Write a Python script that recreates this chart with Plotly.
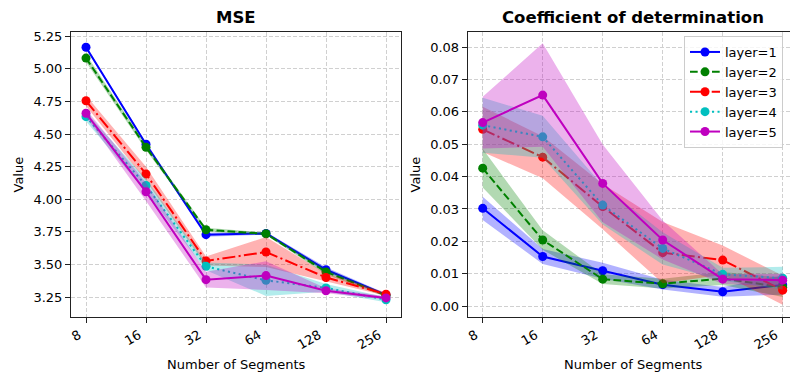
import plotly.graph_objects as go
import math

SEGMENTS = [8, 16, 32, 64, 128, 256]
TICK_TEXT = ["8", "16", "32", "64", "128", "256"]
LAYERS = ["layer=1", "layer=2", "layer=3", "layer=4", "layer=5"]

# MSE means / std
MSE_L1 = [5.165, 4.422, 3.728, 3.738, 3.459, 3.266]
MSE_L2 = [5.082, 4.398, 3.766, 3.735, 3.442, 3.262]
MSE_L3 = [4.755, 4.194, 3.526, 3.595, 3.400, 3.272]
MSE_L4 = [4.633, 4.105, 3.485, 3.378, 3.320, 3.229]
MSE_L5 = [4.659, 4.057, 3.383, 3.414, 3.298, 3.243]
MSE_L1_SD = [0.012, 0.012, 0.015, 0.010, 0.020, 0.010]
MSE_L2_SD = [0.030, 0.020, 0.015, 0.010, 0.020, 0.012]
MSE_L3_SD = [0.040, 0.055, 0.035, 0.115, 0.030, 0.012]
MSE_L4_SD = [0.035, 0.050, 0.030, 0.120, 0.030, 0.020]
MSE_L5_SD = [0.030, 0.070, 0.060, 0.110, 0.020, 0.012]

# Coefficient of determination means / std
R2_L1 = [0.0302, 0.0153, 0.0109, 0.0066, 0.0044, 0.0065]
R2_L2 = [0.0426, 0.0204, 0.0083, 0.0069, 0.0085, 0.0058]
R2_L3 = [0.0546, 0.0460, 0.0307, 0.0165, 0.0142, 0.0049]
R2_L4 = [0.0559, 0.0523, 0.0312, 0.0178, 0.0098, 0.0086]
R2_L5 = [0.0567, 0.0652, 0.0379, 0.0204, 0.0083, 0.0080]
R2_L1_SD = [0.0036, 0.0023, 0.0025, 0.0015, 0.0015, 0.0030]
R2_L2_SD = [0.0060, 0.0030, 0.0015, 0.0015, 0.0020, 0.0030]
R2_L3_SD = [0.0070, 0.0065, 0.0070, 0.0095, 0.0045, 0.0045]
R2_L4_SD = [0.0085, 0.0065, 0.0060, 0.0050, 0.0020, 0.0035]
R2_L5_SD = [0.0080, 0.0160, 0.0120, 0.0060, 0.0015, 0.0020]

COLORS = ["#0000ff", "#008000", "#ff0000", "#00bfbf", "#bf00bf"]
FILLS = ["rgba(0,0,255,0.3)", "rgba(0,128,0,0.3)", "rgba(255,0,0,0.3)",
         "rgba(0,191,191,0.3)", "rgba(191,0,191,0.3)"]
DASHES = ["solid", "7.7px,3.3px", "13px,3.3px,2.1px,3.3px", "2.1px,3.4px", "solid"]

MSE_MEANS = [MSE_L1, MSE_L2, MSE_L3, MSE_L4, MSE_L5]
MSE_SDS = [MSE_L1_SD, MSE_L2_SD, MSE_L3_SD, MSE_L4_SD, MSE_L5_SD]
R2_MEANS = [R2_L1, R2_L2, R2_L3, R2_L4, R2_L5]
R2_SDS = [R2_L1_SD, R2_L2_SD, R2_L3_SD, R2_L4_SD, R2_L5_SD]

W, H = 790, 374
FONT = "DejaVu Sans"

fig = go.Figure()


def add_panel(means, sds, xa, ya, show_legend):
    for i in range(5):
        m, s = means[i], sds[i]
        fig.add_trace(go.Scatter(
            x=SEGMENTS, y=m, mode="lines+markers", name=LAYERS[i],
            line=dict(color=COLORS[i], width=2, dash=DASHES[i]),
            marker=dict(color=COLORS[i], size=9, symbol="circle"),
            xaxis=xa, yaxis=ya, showlegend=show_legend, hoverinfo="skip"))
        upper = [a + b for a, b in zip(m, s)]
        lower = [a - b for a, b in zip(m, s)]
        fig.add_trace(go.Scatter(
            x=SEGMENTS + SEGMENTS[::-1], y=upper + lower[::-1],
            fill="toself", fillcolor=FILLS[i], line=dict(width=0),
            mode="lines", xaxis=xa, yaxis=ya, showlegend=False,
            hoverinfo="skip"))


add_panel(MSE_MEANS, MSE_SDS, "x", "y", False)
add_panel(R2_MEANS, R2_SDS, "x2", "y2", True)

L2 = math.log10(2)
lo = math.log10(8) - 0.25 * L2
ydom = [1 - 316.7 / H, 1 - 32.3 / H]

common_x = dict(
    type="log", tickvals=SEGMENTS, ticktext=TICK_TEXT, tickangle=-30,
    ticklabelshift=-7,
    showline=True, mirror=True, linecolor="#222", linewidth=1,
    ticks="outside", ticklen=5, tickwidth=1, tickcolor="#222",
    showgrid=True, gridcolor="#d0d0d0", griddash="4px,2px", gridwidth=1,
    zeroline=False, tickfont=dict(family=FONT, size=13, color="#000"),
    automargin=False)
common_y = dict(
    showline=True, mirror=True, linecolor="#222", linewidth=1,
    ticks="outside", ticklen=5, tickwidth=1, tickcolor="#222",
    showgrid=True, gridcolor="#d0d0d0", griddash="4px,2px", gridwidth=1,
    zeroline=False, tickfont=dict(family=FONT, size=13, color="#000"),
    automargin=False, domain=ydom)

fig.update_layout(
    width=W, height=H,
    margin=dict(l=0, r=0, t=0, b=0),
    paper_bgcolor="white", plot_bgcolor="white",
    font=dict(family=FONT, size=13, color="#000"),
    xaxis=dict(common_x, domain=[71 / W, 401 / W],
               range=[lo, math.log10(256) + 0.25 * L2], anchor="y"),
    yaxis=dict(common_y, range=[3.099, 5.28],
               tickvals=[3.25, 3.5, 3.75, 4.0, 4.25, 4.5, 4.75, 5.0, 5.25],
               ticktext=["3.25", "3.50", "3.75", "4.00", "4.25", "4.50", "4.75", "5.00", "5.25"],
               anchor="x"),
    xaxis2=dict(common_x, domain=[467.7 / W, 1.0],
                range=[lo, lo + (322.3 / 60) * L2], anchor="y2"),
    yaxis2=dict(common_y, range=[-0.0033, 0.0846],
                tickvals=[0, 0.01, 0.02, 0.03, 0.04, 0.05, 0.06, 0.07, 0.08],
                ticktext=["0.00", "0.01", "0.02", "0.03", "0.04", "0.05", "0.06", "0.07", "0.08"],
                anchor="x2"),
    legend=dict(x=684 / W, y=1 - 36 / H, xanchor="left", yanchor="top",
                bgcolor="rgba(255,255,255,0.8)", bordercolor="#cccccc",
                borderwidth=1, font=dict(family=FONT, size=13, color="#000"),
                tracegroupgap=0),
    showlegend=True,
)

ann = [
    dict(text="<b>MSE</b>", x=236 / W, y=1 - 18 / H, font=dict(size=16.5)),
    dict(text="<b>Coefficient of determination</b>", x=633 / W, y=1 - 18 / H,
         font=dict(size=16.5)),
    dict(text="Number of Segments", x=236 / W, y=1 - 364 / H),
    dict(text="Number of Segments", x=633 / W, y=1 - 364 / H),
    dict(text="Value", x=18 / W, y=1 - 174.5 / H, textangle=-90),
    dict(text="Value", x=415 / W, y=1 - 174.5 / H, textangle=-90),
]
for a in ann:
    fig.add_annotation(xref="paper", yref="paper", showarrow=False,
                       xanchor="center", yanchor="middle",
                       font=dict(family=FONT, size=a.get("font", {}).get("size", 13), color="#000"),
                       **{k: v for k, v in a.items() if k != "font"})

fig.write_html("out.html", config={"displayModeBar": False},
               post_script="document.body.style.margin='0px';document.body.style.overflow='hidden';")
